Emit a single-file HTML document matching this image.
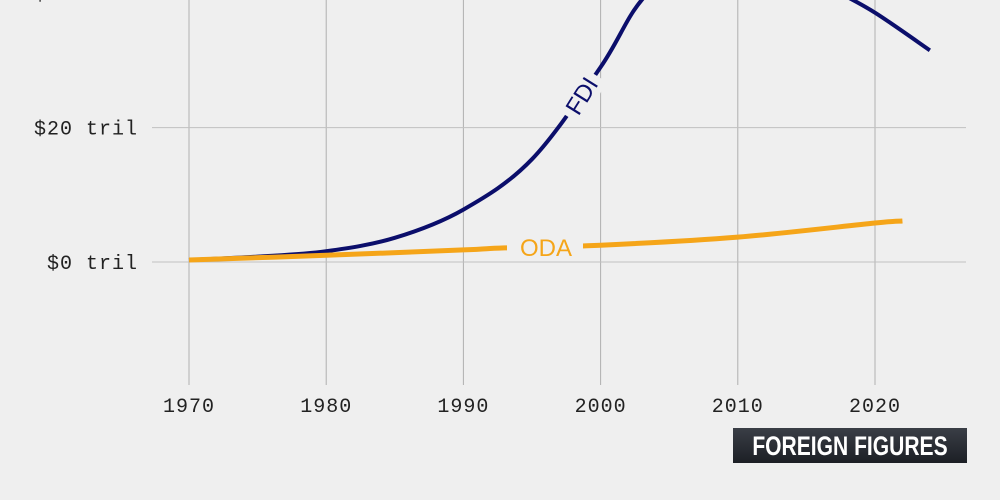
<!DOCTYPE html>
<html><head><meta charset="utf-8"><style>
html,body{margin:0;padding:0;background:#efefef;}
svg{display:block;}
</style></head><body>
<svg id="chart" width="1000" height="500" viewBox="0 0 1000 500">
<g id="grid"></g><g id="lines"></g><g id="labels"></g>
<g>
<defs><linearGradient id="lg" x1="0" y1="0" x2="0" y2="1"><stop offset="0" stop-color="#3a3e46"/><stop offset="1" stop-color="#1c1f25"/></linearGradient></defs>
<rect x="733" y="428" width="234" height="35" fill="url(#lg)"/>
<text x="850" y="455" text-anchor="middle" fill="#fff" font-family="Liberation Sans Narrow, Liberation Sans, sans-serif" font-weight="bold" font-size="27" transform="translate(850 0) scale(0.78 1) translate(-850 0)">FOREIGN FIGURES</text>
</g>
</svg>
<script>
const years=[1970,1975,1980,1985,1990,1995,2000,2003,2007,2012,2017,2020,2024];
const fdi=[0.3,0.8,1.6,3.6,7.8,15.3,29,39,46,46,40.5,37.1,31.5];
const odaYears=[1970,1980,1990,1993,2000,2010,2020,2022];
const oda=[0.3,1.0,1.8,2.1,2.5,3.7,5.8,6.1];
const xTicks=[1970,1980,1990,2000,2010,2020];
const yTicks=[0,20,40];
const yTickLabels=["$0 tril","$20 tril","$40 tril"];
const x=v=>189+(v-1970)*13.72;
const y=v=>262-v*6.72;
const NS="http://www.w3.org/2000/svg";
function mk(t,a,p){const e=document.createElementNS(NS,t);for(const k in a)e.setAttribute(k,a[k]);p.appendChild(e);return e;}
const grid=document.getElementById('grid'),lines=document.getElementById('lines'),labels=document.getElementById('labels');
xTicks.forEach(t=>{
 const l=mk('line',{x1:x(t),x2:x(t),y1:0,y2:385,stroke:'#b0b0b0','stroke-width':1},grid);
 
 
 const tx=mk('text',{x:x(t),y:412,'text-anchor':'middle','font-family':'Liberation Mono, monospace','font-size':20,fill:'#222','letter-spacing':1},labels);
 tx.textContent=t;
 
 
});
yTicks.forEach((t,i)=>{
 const l=mk('line',{x1:152,x2:966,y1:y(t),y2:y(t),stroke:'#c0c0c0','stroke-width':1},grid);
 
 
 const tx=mk('text',{x:138,y:y(t)+7,'text-anchor':'end','font-family':'Liberation Mono, monospace','font-size':20,fill:'#222','letter-spacing':1},labels);
 tx.textContent=yTickLabels[i];
 
 
});
function smooth(xs,ys){
 const p=xs.map((v,i)=>[x(v),y(ys[i])]);
 let d='M'+p[0][0]+','+p[0][1];
 for(let i=0;i<p.length-1;i++){
  const p0=p[i-1]||p[i],p1=p[i],p2=p[i+1],p3=p[i+2]||p2;
  const c1=[p1[0]+(p2[0]-p0[0])/6,p1[1]+(p2[1]-p0[1])/6];
  const c2=[p2[0]-(p3[0]-p1[0])/6,p2[1]-(p3[1]-p1[1])/6];
  d+=' C'+c1+' '+c2+' '+p2;
 }
 return d;
}
const f=mk('path',{d:smooth(years,fdi),fill:'none',stroke:'#0b0e6b','stroke-width':4,'stroke-linecap':'butt'},lines);


const o=mk('path',{d:smooth(odaYears,oda),fill:'none',stroke:'#f5a519','stroke-width':5},lines);


const og=mk('g',{},labels);
mk('rect',{x:507,y:232,width:76,height:26,fill:'#efefef'},og);
const ot=mk('text',{x:546,y:256,'text-anchor':'middle','font-family':'Liberation Sans, sans-serif','font-size':24,fill:'#f5a519'},og);
ot.textContent='ODA';


const fg=mk('g',{transform:'translate(582 96) rotate(-58)'},labels);
mk('rect',{x:-25,y:-14,width:50,height:28,fill:'#efefef'},fg);
const ft=mk('text',{x:0,y:8,'text-anchor':'middle','font-family':'Liberation Sans, sans-serif','font-size':24,fill:'#0b0e6b'},fg);
ft.textContent='FDI';


</script>
</body></html>
